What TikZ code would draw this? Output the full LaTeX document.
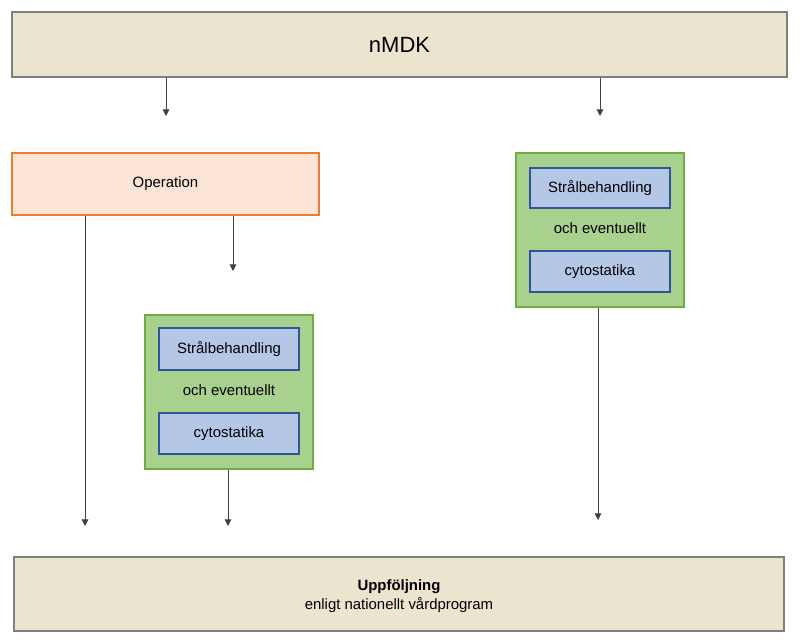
\documentclass[tikz,border=0pt]{standalone}
\usepackage{fontspec}
\setmainfont{Liberation Sans}
\usetikzlibrary{arrows.meta}
\definecolor{beige}{HTML}{EBE4CF}
\definecolor{beigeline}{HTML}{7F7F7F}
\definecolor{opfill}{HTML}{FCE4D6}
\definecolor{opline}{HTML}{ED7D31}
\definecolor{grfill}{HTML}{A9D18E}
\definecolor{grline}{HTML}{70AD47}
\definecolor{blfill}{HTML}{B4C7E7}
\definecolor{blline}{HTML}{2F5597}
\definecolor{arrcol}{HTML}{404040}
\tikzset{
  box/.style={rectangle, draw, line width=1.1pt, inner sep=0pt, align=center},
  beigebox/.style={box, fill=beige, draw=beigeline},
  opbox/.style={box, fill=opfill, draw=opline},
  greenbox/.style={box, fill=grfill, draw=grline},
  bluebox/.style={box, fill=blfill, draw=blline, font=\fontsize{11.2pt}{13pt}\selectfont},
  plaintext/.style={inner sep=0pt, font=\fontsize{11.2pt}{13pt}\selectfont},
  arr/.style={draw=arrcol, line width=0.75pt, -{Triangle[width=5pt,length=5pt]}},
  ln/.style={draw=arrcol, line width=0.75pt}
}
\begin{document}
\begin{tikzpicture}[x=0.75pt,y=-0.75pt]
\useasboundingbox (0,0) rectangle (800,640);
% main boxes
\node[beigebox, minimum width={775*0.75pt}, minimum height={65*0.75pt}, font=\fontsize{16.5pt}{19pt}\selectfont] (nmdk) at (399.5,44.5) {nMDK};
\node[opbox, minimum width={307*0.75pt}, minimum height={62*0.75pt}, font=\fontsize{11.2pt}{13pt}\selectfont] (op) at (165.5,184) {Operation};
\node[greenbox, minimum width={168*0.75pt}, minimum height={154*0.75pt}] (gL) at (229,392) {};
\node[bluebox, minimum width={140*0.75pt}, minimum height={42*0.75pt}] (sL1) at (229,349) {Strålbehandling};
\node[plaintext] (tL) at (229,390) {och eventuellt};
\node[bluebox, minimum width={140*0.75pt}, minimum height={41*0.75pt}] (sL2) at (229,433.5) {cytostatika};
\node[greenbox, minimum width={168*0.75pt}, minimum height={154*0.75pt}] (gR) at (600,230) {};
\node[bluebox, minimum width={140*0.75pt}, minimum height={40*0.75pt}] (sR1) at (600,188) {Strålbehandling};
\node[plaintext] (tR) at (600,228) {och eventuellt};
\node[bluebox, minimum width={140*0.75pt}, minimum height={41*0.75pt}] (sR2) at (600,271.5) {cytostatika};
\node[beigebox, minimum width={770*0.75pt}, minimum height={74*0.75pt}] (up) at (399,594) {};
\node[plaintext, font=\bfseries\fontsize{11.2pt}{13pt}\selectfont] (upt1) at (399,587) {Uppföljning};
\node[plaintext] (upt2) at (399,605) {enligt nationellt vårdprogram};
% free arrow ends
\coordinate (e1) at (166,116);
\coordinate (e2) at (600,116);
\coordinate (e3) at (85,526);
\coordinate (e4) at (233,271);
\coordinate (e5) at (228,526);
\coordinate (e6) at (598,520);
% connectors
\draw[arr] (nmdk.south -| e1) -- (e1);
\draw[arr] (nmdk.south -| e2) -- (e2);
\draw[arr] (op.south -| e3) -- (e3);
\draw[arr] (op.south -| e4) -- (e4);
\draw[arr] (gL.south -| e5) -- (e5);
\draw[arr] (gR.south -| e6) -- (e6);
\end{tikzpicture}
\end{document}
